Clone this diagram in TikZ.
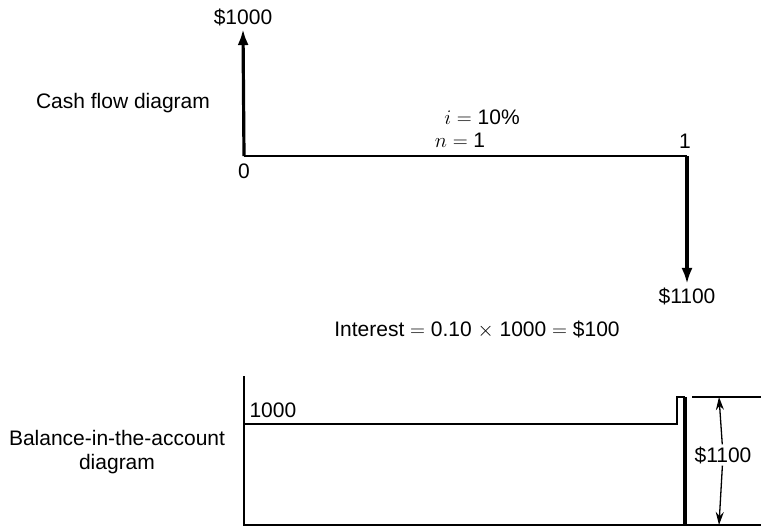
\documentclass[tikz,border=0pt]{standalone}
\usepackage{fontspec}
\setmainfont{Liberation Sans}
\usetikzlibrary{arrows.meta}

\begin{document}
\begin{tikzpicture}[
    x=1pt,
    y=-1pt,
    every node/.style={font=\fontsize{21}{24}\selectfont},
    axisline/.style={
        draw=black,
        line width=1.7pt
    },
    flowarrow/.style={
        draw=black,
        line width=3.2pt,
        -{Latex[length=16pt,width=11pt]}
    },
    stepline/.style={
        draw=black,
        line width=2pt,
        line join=miter
    },
    dimarrow/.style={
        draw=black,
        line width=1.3pt,
        -{Stealth[length=13pt,width=8pt]}
    }
]
\useasboundingbox (0,0) rectangle (761,528);

% Cash flow
\node (cftitle) at (123,103) {Cash flow diagram};

\coordinate (t0) at (244,156);
\coordinate (t1) at (687,156);

\node[anchor=north] (lab0) at (244,160) {0};
\node[anchor=south] (lab1) at (685,152) {1};

\node (rate) at (482,117) {$i={}$10\%};
\node (per) at (460,140) {$n={}$1};

\node (p1000) at (243,17) {\$1000};
\node (p1100) at (687,296) {\$1100};

\draw[axisline] (t0) -- (t1);
\draw[flowarrow] (t0) -- (p1000.south);
\draw[flowarrow] (t1) -- (p1100.north);

% Interest
\node (interest) at (477,330)
{Interest $=$ 0.10 $\times$ 1000 $=$ \$100};

% Balance in the account
\node[align=center] (baltitle) at (117,452)
{Balance-in-the-account\\diagram};

\coordinate (btop) at (244,376);
\coordinate (b0) at (244,525);
\coordinate (bend) at (761,525);
\draw[axisline] (btop) -- (b0) -- (bend);

\coordinate (s0) at (244,424);
\coordinate (s1) at (677,424);
\coordinate (s2) at (677,397);
\coordinate (s3) at (685,397);
\coordinate (s4) at (685,525);
\draw[stepline] (s0) -- (s1) -- (s2) -- (s3);
\draw[line width=3.2pt] (s3) -- (s4);

\node[anchor=south west] (lab1000) at (246,421) {1000};

\coordinate (r0) at (692,397);
\coordinate (r1) at (761,397);
\draw[axisline] (r0) -- (r1);

\coordinate (d0) at (719,397);
\coordinate (d1) at (719,525);
\node[inner sep=2pt] (dim) at (723,455) {\$1100};
\draw[dimarrow] (dim) -- (d0);
\draw[dimarrow] (dim) -- (d1);

\end{tikzpicture}
\end{document}
